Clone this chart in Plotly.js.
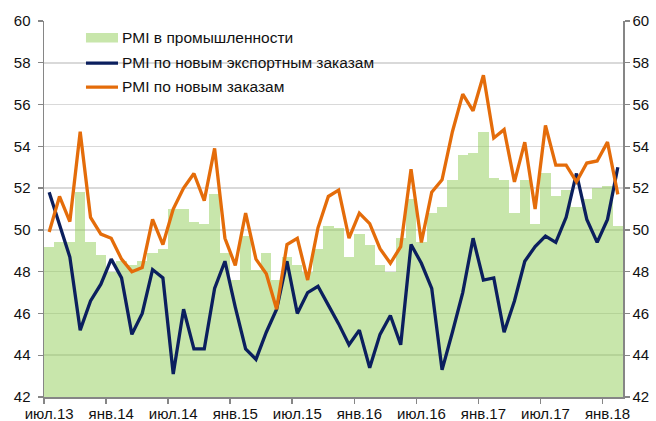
<!DOCTYPE html>
<html>
<head>
<meta charset="utf-8">
<script src="https://cdn.plot.ly/plotly-3.0.1.min.js"></script>
<style>html,body{margin:0;padding:0;background:#fff}#chart{width:656px;height:421px}</style>
</head>
<body>
<div id="chart"></div>
<script>
const months = [
  "июл.13","авг.13","сен.13","окт.13","ноя.13","дек.13",
  "янв.14","фев.14","мар.14","апр.14","май.14","июн.14","июл.14","авг.14","сен.14","окт.14","ноя.14","дек.14",
  "янв.15","фев.15","мар.15","апр.15","май.15","июн.15","июл.15","авг.15","сен.15","окт.15","ноя.15","дек.15",
  "янв.16","фев.16","мар.16","апр.16","май.16","июн.16","июл.16","авг.16","сен.16","окт.16","ноя.16","дек.16",
  "янв.17","фев.17","мар.17","апр.17","май.17","июн.17","июл.17","авг.17","сен.17","окт.17","ноя.17","дек.17",
  "янв.18","фев.18"
];
const pmiManufacturing = [
  49.2,49.4,49.4,51.8,49.4,48.8,
  48.0,48.5,48.3,48.5,48.9,49.1,51.0,51.0,50.4,50.3,51.7,48.9,
  47.6,49.7,48.1,48.9,47.6,48.7,48.3,48.0,49.1,50.2,50.1,48.7,
  49.8,49.3,48.3,48.0,49.6,51.5,49.4,50.8,51.1,52.4,53.6,53.7,
  54.7,52.5,52.4,50.8,52.4,50.3,52.7,51.6,51.9,51.1,51.5,52.0,
  52.1,50.2
];
const pmiExportOrders = [
  51.8,50.2,48.7,45.2,46.6,47.4,
  48.6,47.7,45.0,46.0,48.1,47.7,43.1,46.2,44.3,44.3,47.2,48.5,
  46.3,44.3,43.8,45.1,46.2,48.5,46.0,47.0,47.3,46.4,45.5,44.5,
  45.2,43.4,45.0,45.9,44.5,49.3,48.4,47.2,43.3,45.1,47.0,49.6,
  47.6,47.7,45.1,46.6,48.5,49.2,49.7,49.4,50.6,52.7,50.5,49.4,
  50.5,53.0
];
const pmiNewOrders = [
  49.9,51.6,50.4,54.7,50.6,49.8,
  49.6,48.6,48.0,48.2,50.5,49.3,51.0,52.0,52.7,51.4,53.9,49.6,
  48.3,50.8,48.6,47.9,46.2,49.3,49.6,47.6,50.1,51.6,51.9,49.6,
  50.8,50.3,49.1,48.4,49.2,52.9,49.4,51.8,52.4,54.7,56.5,55.7,
  57.4,54.4,54.8,52.3,54.2,51.0,55.0,53.1,53.1,52.3,53.2,53.3,
  54.2,51.7
];
const seriesNames = ["PMI в промышленности","PMI по новым экспортным заказам","PMI по новым заказам"];
const yTicks = [42,44,46,48,50,52,54,56,58,60];

const GREEN = "rgba(145,205,87,0.5)";
const GREEN_SOLID = "rgb(200,230,171)";
const BLUE = "#0b1f5e";
const ORANGE = "#e46c0a";
const FONT = {family: "Liberation Sans, Arial, sans-serif", size: 15, color: "#111"};
const LEGEND_FONT = {family: "Liberation Sans, Arial, sans-serif", size: 15.5, color: "#111"};

const traces = [
  {type: "bar", x: months, y: pmiManufacturing, name: seriesNames[0],
   marker: {color: GREEN, line: {width: 0}}, yaxis: "y", hoverinfo: "x+y"},
  {type: "scatter", mode: "lines", x: months, y: pmiExportOrders, name: seriesNames[1],
   line: {color: BLUE, width: 3.3}, yaxis: "y2"},
  {type: "scatter", mode: "lines", x: months, y: pmiNewOrders, name: seriesNames[2],
   line: {color: ORANGE, width: 3.3}, yaxis: "y2"}
];

const yCommon = {
  range: [42, 60], tickvals: yTicks, ticktext: yTicks.map(String),
  ticks: "outside", ticklen: 5, tickwidth: 1.3, tickcolor: "#868686",
  showline: true, linecolor: "#868686", linewidth: 1.5,
  tickfont: FONT, automargin: false, fixedrange: true, zeroline: false
};

const layout = {
  width: 656, height: 421,
  margin: {l: 44, r: 33, t: 21, b: 24, pad: 0},
  paper_bgcolor: "#fff", plot_bgcolor: "#fff",
  showlegend: false,
  bargap: 0,
  font: FONT,
  xaxis: {
    type: "category", tickmode: "linear", tick0: 0, dtick: 6, tickangle: 0,
    tickson: "boundaries", ticks: "outside", ticklen: 5, tickwidth: 1.3, tickcolor: "#868686",
    showline: true, linecolor: "#868686", linewidth: 1.5,
    showgrid: false, tickfont: FONT, automargin: false, range: [-0.5, months.length - 0.5],
    ticklabelstandoff: 2
  },
  yaxis: Object.assign({}, yCommon, {showgrid: true, gridcolor: "#d9d9d9", gridwidth: 1.5, ticklabelstandoff: 4}),
  yaxis2: Object.assign({}, yCommon, {overlaying: "y", side: "right", showgrid: false}),
  shapes: [
    {type: "rect", xref: "paper", yref: "paper", x0: 0.0725, x1: 0.1278, y0: 0.943, y1: 0.968,
     fillcolor: GREEN_SOLID, line: {width: 0}},
    {type: "line", xref: "paper", yref: "paper", x0: 0.0725, x1: 0.1278, y0: 0.888, y1: 0.888,
     line: {color: BLUE, width: 3.3}},
    {type: "line", xref: "paper", yref: "paper", x0: 0.0725, x1: 0.1278, y0: 0.824, y1: 0.824,
     line: {color: ORANGE, width: 3.3}}
  ],
  annotations: [
    {xref: "paper", yref: "paper", x: 0.131, y: 0.955, text: seriesNames[0], showarrow: false, xanchor: "left", yanchor: "middle", font: LEGEND_FONT},
    {xref: "paper", yref: "paper", x: 0.131, y: 0.889, text: seriesNames[1], showarrow: false, xanchor: "left", yanchor: "middle", font: LEGEND_FONT},
    {xref: "paper", yref: "paper", x: 0.131, y: 0.825, text: seriesNames[2], showarrow: false, xanchor: "left", yanchor: "middle", font: LEGEND_FONT}
  ]
};

Plotly.newPlot("chart", traces, layout, {displayModeBar: false, staticPlot: true});
</script>
</body>
</html>
